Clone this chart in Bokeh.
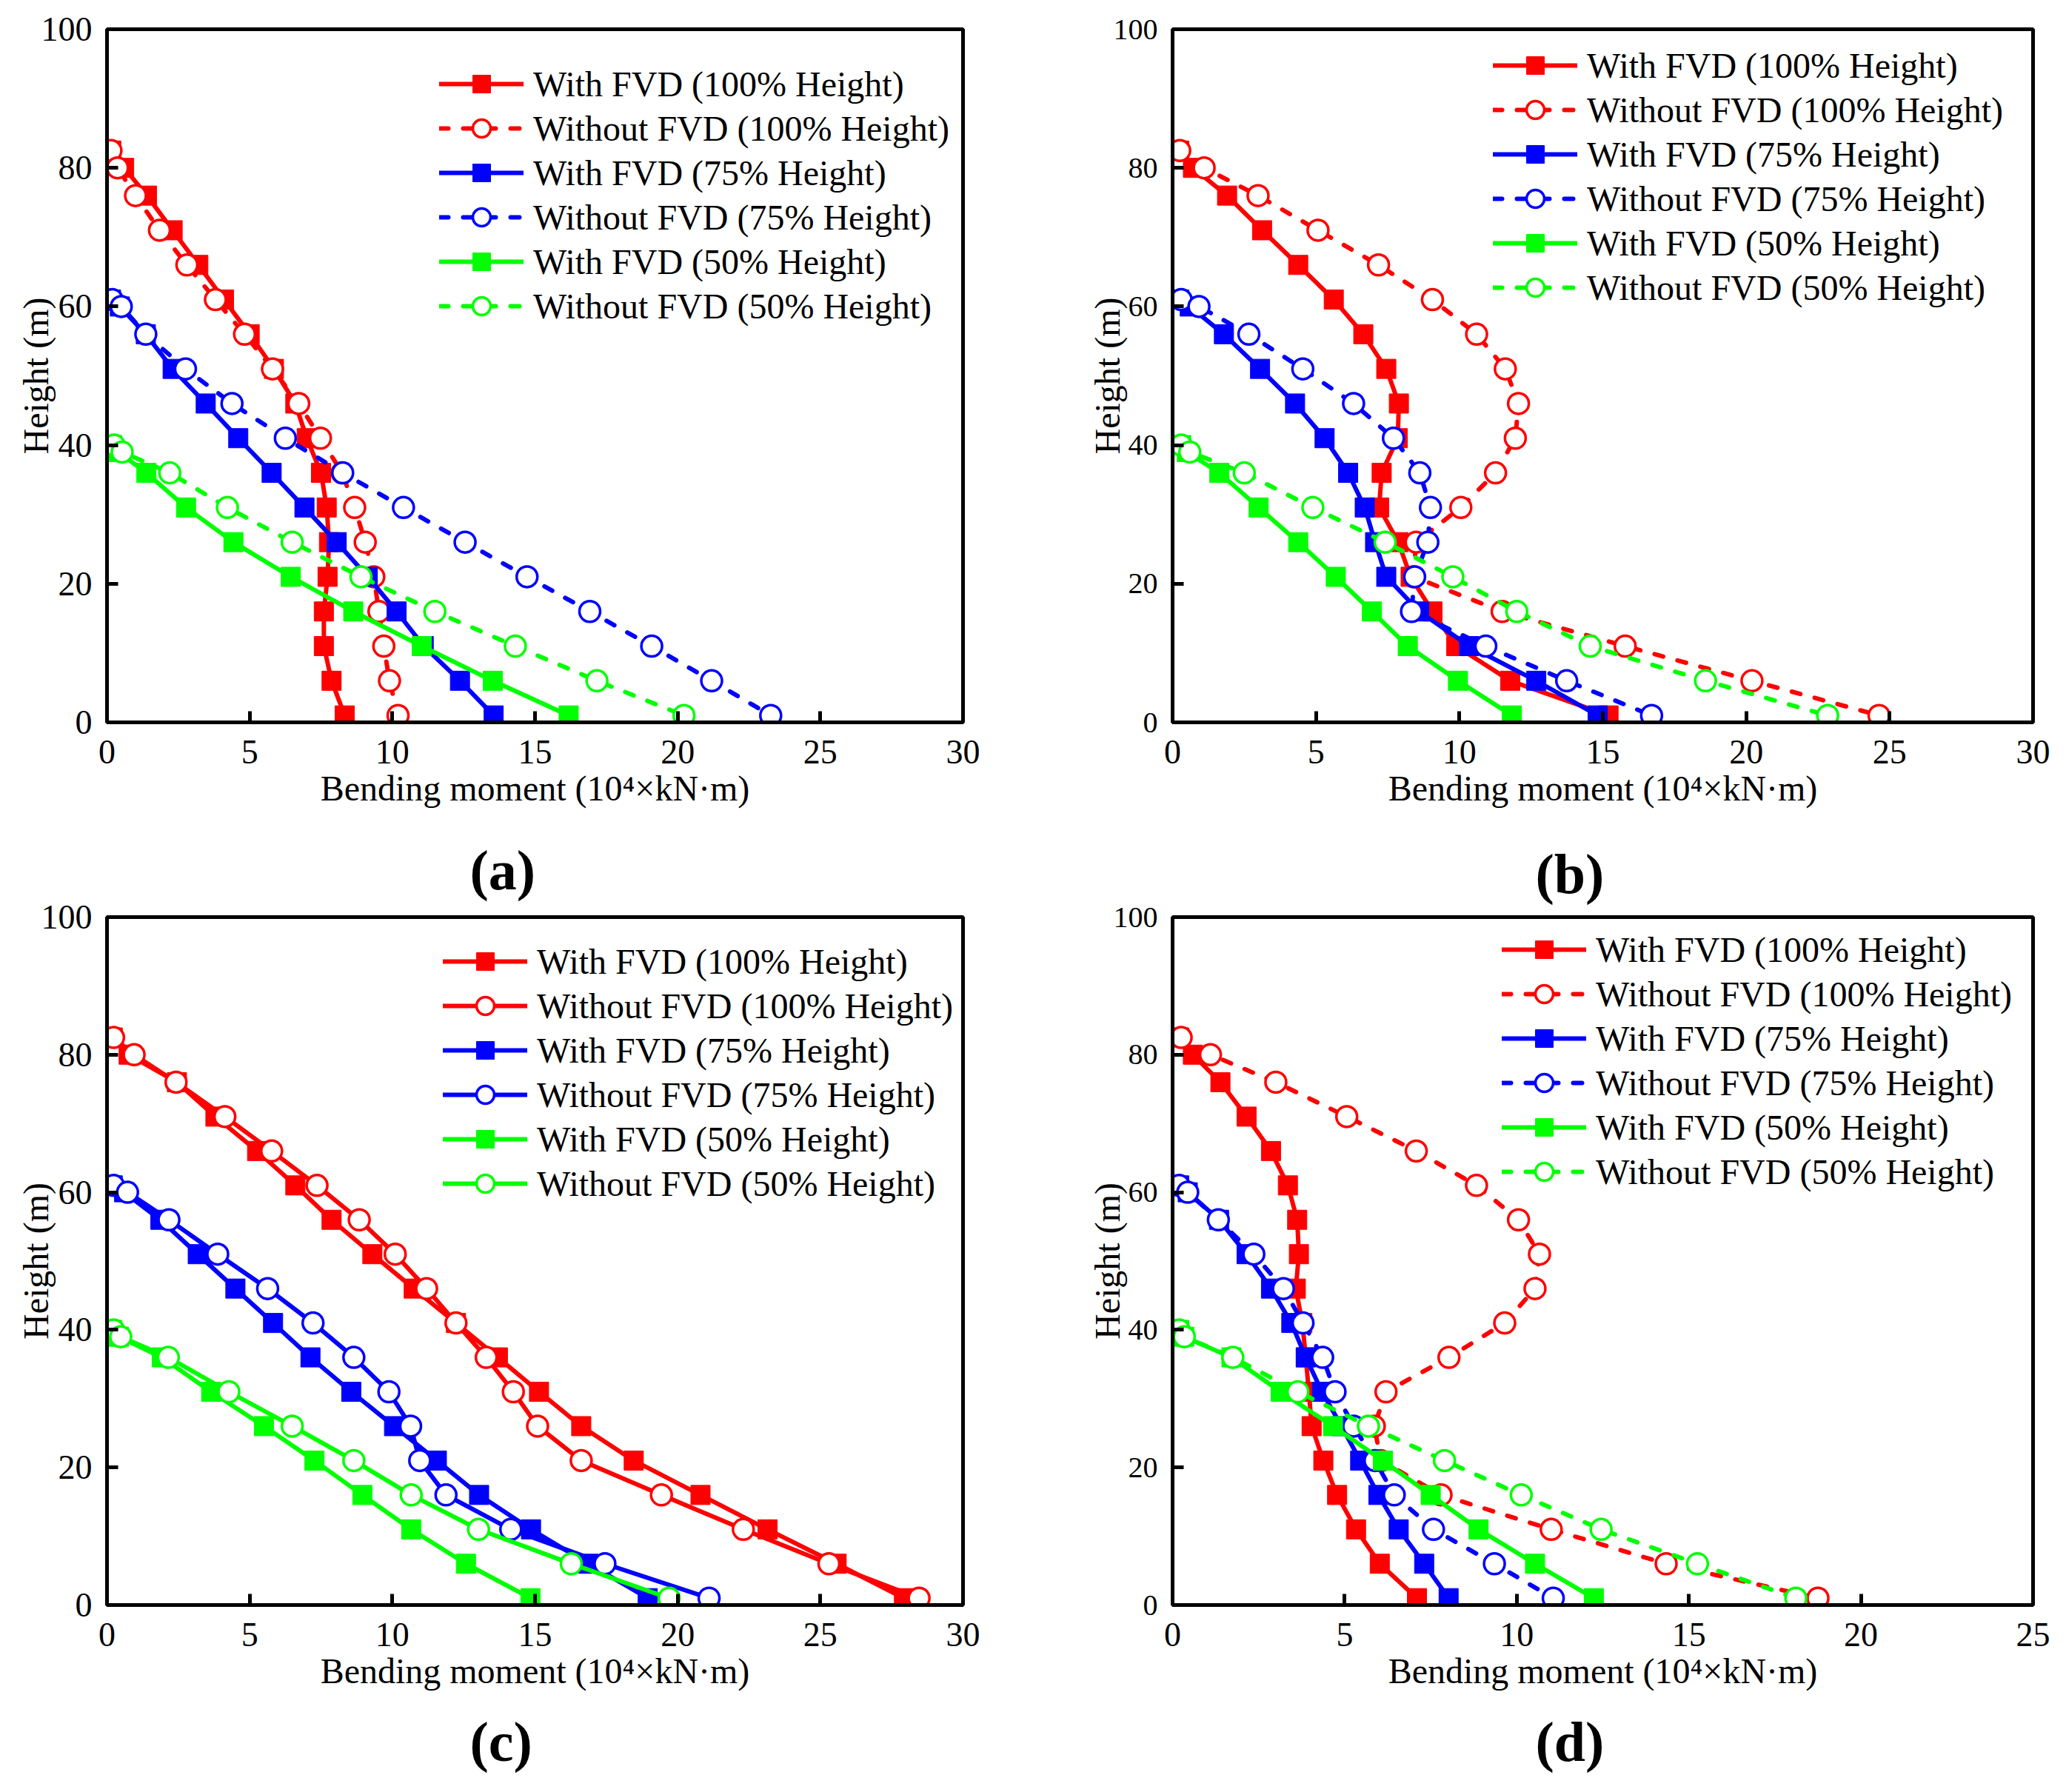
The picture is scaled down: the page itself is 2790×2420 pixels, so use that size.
from bokeh.plotting import figure
from bokeh.layouts import row, column
from bokeh.models import Range1d, FixedTicker, Title
from bokeh.embed import file_html
from bokeh.resources import INLINE

FONT = "Liberation Serif"

# Heights (m) of the data points
H100 = [82.5, 80, 76, 71, 66, 61, 56, 51, 46, 41, 36, 31, 26, 21, 16, 11, 6, 1]
H75 = [61, 60, 56, 51, 46, 41, 36, 31, 26, 21, 16, 11, 6, 1]
H50 = [40, 39, 36, 31, 26, 21, 16, 11, 6, 1]

LABELS = ["With FVD (100% Height)", "Without FVD (100% Height)",
          "With FVD (75% Height)", "Without FVD (75% Height)",
          "With FVD (50% Height)", "Without FVD (50% Height)"]

# Panel (a)
a_with100 = [0.15, 0.6, 1.4, 2.3, 3.2, 4.1, 5.0, 5.85, 6.6, 7.0, 7.5, 7.7, 7.78, 7.73, 7.6, 7.6, 7.87, 8.33]
a_wo100 = [0.14, 0.37, 1.0, 1.84, 2.8, 3.8, 4.82, 5.8, 6.72, 7.48, 8.24, 8.68, 9.05, 9.35, 9.53, 9.7, 9.9, 10.2]
a_with75 = [0.14, 0.45, 1.36, 2.3, 3.46, 4.6, 5.77, 6.92, 8.05, 9.14, 10.15, 11.1, 12.37, 13.55]
a_wo75 = [0.18, 0.5, 1.36, 2.75, 4.38, 6.25, 8.26, 10.39, 12.55, 14.72, 16.92, 19.09, 21.19, 23.26]
a_with50 = [0.18, 0.4, 1.38, 2.77, 4.43, 6.44, 8.63, 11.03, 13.52, 16.18]
a_wo50 = [0.25, 0.53, 2.2, 4.22, 6.49, 8.9, 11.49, 14.31, 17.17, 20.22]

# Panel (b)
b_with100 = [0.23, 0.71, 1.9, 3.12, 4.38, 5.62, 6.65, 7.45, 7.89, 7.85, 7.29, 7.2, 7.87, 8.3, 9.06, 9.89, 11.77, 15.2]
b_wo100 = [0.25, 1.1, 2.98, 5.07, 7.18, 9.06, 10.6, 11.6, 12.06, 11.95, 11.26, 10.05, 8.49, 8.4, 11.49, 15.78, 20.2, 24.63]
b_with75 = [0.23, 0.6, 1.79, 3.05, 4.27, 5.3, 6.12, 6.7, 7.06, 7.45, 8.6, 10.34, 12.68, 14.82]
b_wo75 = [0.3, 0.92, 2.66, 4.54, 6.31, 7.7, 8.62, 8.99, 8.9, 8.44, 8.33, 10.92, 13.74, 16.7]
b_with50 = [0.3, 0.5, 1.63, 3.0, 4.38, 5.69, 6.95, 8.2, 9.95, 11.83]
b_wo50 = [0.3, 0.6, 2.5, 4.89, 7.41, 9.77, 12.0, 14.56, 18.58, 22.84]

# Panel (c)
c_with100 = [0.2, 0.76, 2.45, 3.8, 5.26, 6.6, 7.87, 9.3, 10.75, 12.23, 13.7, 15.14, 16.62, 18.46, 20.8, 23.15, 25.57, 27.93]
c_wo100 = [0.23, 0.95, 2.42, 4.13, 5.77, 7.36, 8.84, 10.1, 11.2, 12.23, 13.29, 14.24, 15.09, 16.62, 19.43, 22.3, 25.3, 28.46]
c_with75 = [0.2, 0.6, 1.87, 3.18, 4.5, 5.82, 7.13, 8.56, 10.06, 11.56, 13.04, 14.86, 16.87, 18.95]
c_wo75 = [0.23, 0.72, 2.17, 3.88, 5.63, 7.22, 8.65, 9.88, 10.64, 10.96, 11.88, 14.15, 17.45, 21.1]
c_with50 = [0.18, 0.42, 1.92, 3.65, 5.5, 7.27, 8.95, 10.66, 12.58, 14.84]
c_wo50 = [0.23, 0.48, 2.15, 4.27, 6.49, 8.65, 10.66, 13.02, 16.27, 19.7]

# Panel (d)
d_with100 = [0.19, 0.59, 1.39, 2.15, 2.86, 3.35, 3.62, 3.67, 3.58, 3.77, 3.87, 3.96, 4.04, 4.38, 4.78, 5.33, 6.02, 7.1]
d_wo100 = [0.25, 1.1, 3.0, 5.06, 7.08, 8.83, 10.05, 10.66, 10.53, 9.65, 8.03, 6.2, 5.86, 6.05, 7.8, 11.0, 14.34, 18.75]
d_with75 = [0.19, 0.44, 1.35, 2.15, 2.86, 3.45, 3.87, 4.34, 4.91, 5.45, 5.98, 6.57, 7.31, 8.02]
d_wo75 = [0.19, 0.44, 1.33, 2.36, 3.22, 3.79, 4.36, 4.72, 5.26, 5.88, 6.44, 7.58, 9.35, 11.06]
d_with50 = [0.19, 0.34, 1.71, 3.14, 4.66, 6.11, 7.5, 8.89, 10.53, 12.24]
d_wo50 = [0.19, 0.34, 1.75, 3.64, 5.69, 7.9, 10.13, 12.45, 15.25, 18.11]

X_TICKS_30 = [0, 5, 10, 15, 20, 25, 30]
X_TICKS_25 = [0, 5, 10, 15, 20, 25]
Y_TICKS = [0, 20, 40, 60, 80, 100]
COLORS = ["#ff0000", "#ff0000", "#0000ff", "#0000ff", "#00ff00", "#00ff00"]


def tag(text, standoff, valign):
    return Title(text=text, align="left", offset=490, text_font=FONT,
                 text_font_size="76px", text_font_style="bold", text_color="black",
                 standoff=standoff, vertical_align=valign)


def make_panel(data, xmax, xticks, dashed, width, height, borders,
               ytick_size, ylab_standoff, legend_xy):
    left, right, top, bottom = borders
    p = figure(width=width, height=height, output_backend="svg", toolbar_location=None,
               x_range=Range1d(0, xmax), y_range=Range1d(0, 100),
               min_border_left=left, min_border_right=right,
               min_border_top=top, min_border_bottom=bottom)
    p.background_fill_color = "white"
    p.border_fill_color = "white"
    p.grid.visible = False
    p.outline_line_color = "black"
    p.outline_line_width = 5

    heights = [H100, H100, H75, H75, H50, H50]
    for i, (xs, hs) in enumerate(zip(data, heights)):
        col = COLORS[i]
        without = (i % 2 == 1)
        dash = "12 20" if (without and dashed) else "solid"
        p.line(xs, hs, line_color=col, line_width=6, line_dash=dash,
               line_cap="round", line_join="round", legend_label=LABELS[i])
        if without:
            p.scatter(xs, hs, marker="circle", size=28, fill_color="white",
                      line_color=col, line_width=3.5, legend_label=LABELS[i])
        else:
            p.scatter(xs, hs, marker="square", size=26, fill_color=col,
                      line_color=col, line_width=1, legend_label=LABELS[i])

    for ax in (p.xaxis[0], p.yaxis[0]):
        ax.axis_line_color = "black"
        ax.axis_line_width = 5
        ax.major_tick_in = 15
        ax.major_tick_out = 0
        ax.major_tick_line_width = 5
        ax.major_tick_line_color = "black"
        ax.minor_tick_line_color = None
        ax.major_label_text_font = FONT
        ax.major_label_text_color = "black"
        ax.axis_label_text_font = FONT
        ax.axis_label_text_font_style = "normal"
        ax.axis_label_text_font_size = "48px"
        ax.axis_label_text_color = "black"

    p.xaxis[0].ticker = FixedTicker(ticks=xticks, minor_ticks=[])
    p.yaxis[0].ticker = FixedTicker(ticks=Y_TICKS, minor_ticks=[])
    p.xaxis[0].major_label_text_font_size = "46px"
    p.yaxis[0].major_label_text_font_size = ytick_size
    p.xaxis[0].major_label_standoff = 24
    p.yaxis[0].major_label_standoff = 20
    p.xaxis[0].axis_label = "Bending moment (10\u2074\u00d7kN\u00b7m)"
    p.yaxis[0].axis_label = "Height (m)"
    p.xaxis[0].axis_label_standoff = 4
    p.yaxis[0].axis_label_standoff = ylab_standoff

    lg = p.legend[0]
    lg.location = legend_xy
    lg.border_line_color = None
    lg.background_fill_alpha = 0
    lg.padding = 0
    lg.margin = 0
    lg.spacing = 0
    lg.glyph_width = 114
    lg.glyph_height = 60
    lg.label_height = 60
    lg.label_standoff = 13
    lg.label_text_font = FONT
    lg.label_text_font_size = "48px"
    lg.label_text_color = "black"
    return p


pa = make_panel([a_with100, a_wo100, a_with75, a_wo75, a_with50, a_wo50],
                30, X_TICKS_30, True, 1403, 1110, (144, 103, 39, 135), "46px", -22, (449, 532))
pb = make_panel([b_with100, b_wo100, b_with75, b_wo75, b_with50, b_wo50],
                30, X_TICKS_30, True, 1379, 1110, (180, 37, 36, 132), "40px", -21, (433, 557))
pc = make_panel([c_with100, c_wo100, c_with75, c_wo75, c_with50, c_wo50],
                30, X_TICKS_30, False, 1403, 1305, (144, 103, 128, 248), "46px", -22, (454, 539))
pd = make_panel([d_with100, d_wo100, d_with75, d_wo75, d_with50, d_wo50],
                25, X_TICKS_25, True, 1379, 1305, (180, 37, 119, 248), "40px", -21, (445, 555))

# Panel tags: (a)/(b) sit just above the lower row, (c)/(d) under their own axes
pc.add_layout(tag("(a)", 39, "top"), "above")
pd.add_layout(tag("(b)", 30, "top"), "above")
pc.add_layout(tag("(c)", 44, "bottom"), "below")
pd.add_layout(tag("(d)", 44, "bottom"), "below")

layout = column(row(pa, pb), row(pc, pd))
open("out.html", "w").write(file_html(layout, INLINE))
